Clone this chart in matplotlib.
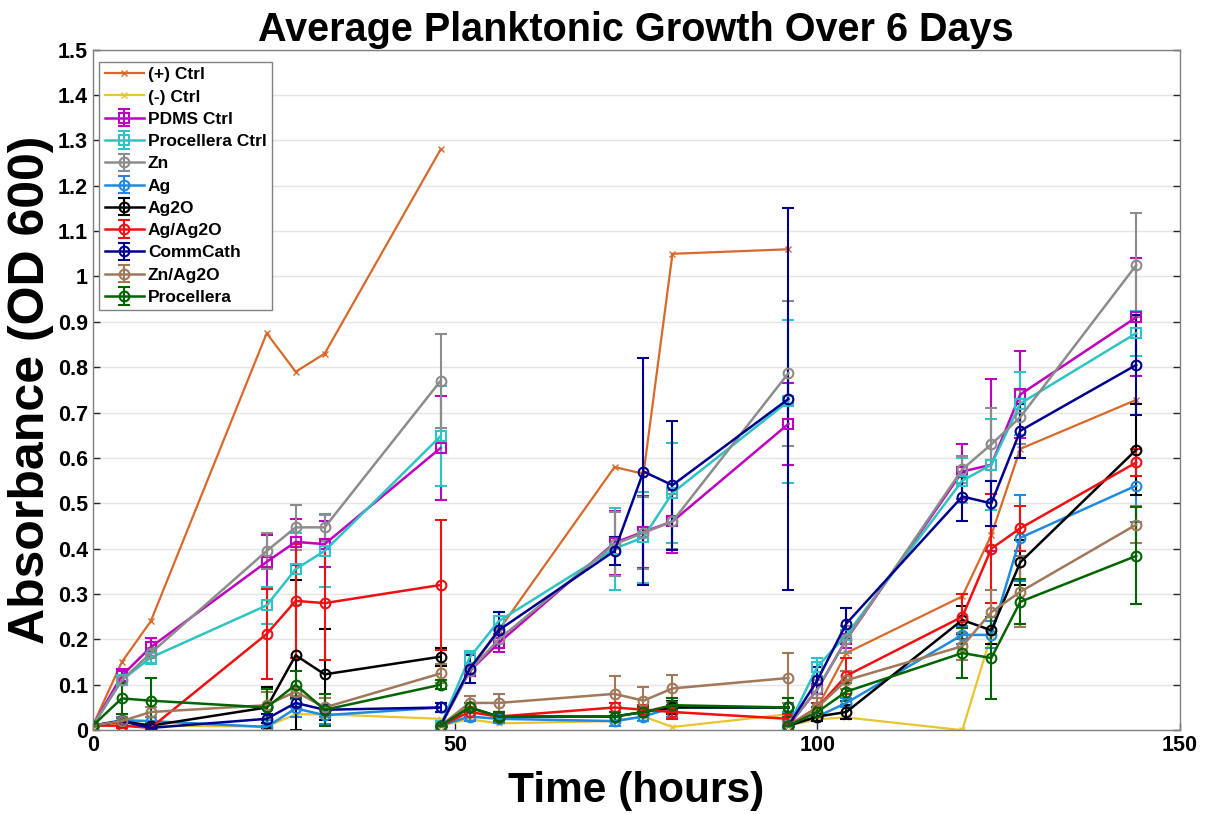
import numpy as np
import matplotlib
matplotlib.use("Agg")
import matplotlib.pyplot as plt

plt.rcParams['font.family'] = ['Liberation Sans', 'DejaVu Sans']

# ---- data: three day-long segments, 7 time points each ----
day1 = [0, 4, 8, 24, 28, 32, 48]
day2 = [48, 52, 56, 72, 76, 80, 96]
day3 = [96, 100, 104, 120, 124, 128, 144]

labels = ["(+) Ctrl", "(-) Ctrl", "PDMS Ctrl", "Procellera Ctrl", "Zn", "Ag",
          "Ag2O", "Ag/Ag2O", "CommCath", "Zn/Ag2O", "Procellera"]

nan = float('nan')

pos_ctrl = [0.01, 0.15, 0.24, 0.875, 0.79, 0.83, 1.28,
            0.01, 0.13, 0.22, 0.58, 0.565, 1.05, 1.06,
            0.01, 0.05, 0.17, 0.295, 0.43, 0.62, 0.728]
neg_ctrl = [0.01, 0.01, 0.01, 0.008, 0.035, 0.035, 0.025,
            0.01, 0.024, 0.015, 0.02, 0.03, 0.007, 0.035,
            0.01, 0.024, 0.028, 0.0, 0.21, nan, nan]

pdms = [0.01, 0.12, 0.183, 0.371, 0.415, 0.41, 0.622,
        0.01, 0.13, 0.192, 0.413, 0.437, 0.46, 0.675,
        0.01, 0.09, 0.2, 0.57, 0.585, 0.74, 0.91]
pdms_err = [0, 0.015, 0.02, 0.06, 0.05, 0.05, 0.115,
            0, 0.01, 0.02, 0.07, 0.08, 0.07, 0.09,
            0, 0.02, 0.02, 0.06, 0.19, 0.095, 0.13]

proc_ctrl = [0.01, 0.11, 0.16, 0.275, 0.355, 0.395, 0.648,
             0.01, 0.16, 0.24, 0.40, 0.425, 0.523, 0.725,
             0.01, 0.14, 0.21, 0.55, 0.585, 0.72, 0.875]
proc_ctrl_err = [0, 0.01, 0.015, 0.04, 0.08, 0.08, 0.11,
                 0, 0.015, 0.02, 0.09, 0.1, 0.11, 0.18,
                 0, 0.02, 0.02, 0.05, 0.1, 0.07, 0.05]

zn = [0.01, 0.11, 0.17, 0.395, 0.447, 0.447, 0.77,
      0.01, 0.13, 0.2, 0.41, 0.435, 0.46, 0.787,
      0.01, 0.09, 0.2, 0.575, 0.63, 0.69, 1.025]
zn_err = [0, 0.01, 0.01, 0.04, 0.05, 0.03, 0.103,
          0, 0.01, 0.02, 0.07, 0.08, 0.06, 0.16,
          0, 0.02, 0.03, 0.03, 0.08, 0.06, 0.114]

ag = [0.01, 0.022, 0.02, 0.007, 0.048, 0.033, 0.05,
      0.01, 0.03, 0.025, 0.02, 0.03, 0.05, 0.05,
      0.01, 0.03, 0.06, 0.21, 0.21, 0.424, 0.539]
ag_err = [0, 0.005, 0.01, 0.015, 0.02, 0.02, 0.01,
          0, 0.01, 0.01, 0.01, 0.01, 0.02, 0.01,
          0, 0.01, 0.01, 0.02, 0.03, 0.095, 0.08]

ag2o = [0.01, 0.02, 0.01, 0.05, 0.165, 0.123, 0.162,
        0.01, 0.05, 0.03, 0.03, 0.04, 0.05, 0.05,
        0.01, 0.03, 0.04, 0.243, 0.22, 0.37, 0.618]
ag2o_err = [0, 0.01, 0.01, 0.045, 0.165, 0.1, 0.02,
            0, 0.01, 0.01, 0.01, 0.01, 0.015, 0.02,
            0, 0.01, 0.015, 0.03, 0.03, 0.05, 0.1]

ag_ag2o = [0.01, 0.01, 0.005, 0.212, 0.285, 0.28, 0.32,
           0.01, 0.04, 0.03, 0.05, 0.045, 0.04, 0.025,
           0.01, 0.05, 0.12, 0.25, 0.40, 0.445, 0.59]
ag_ag2o_err = [0, 0.005, 0.005, 0.1, 0.125, 0.125, 0.143,
               0, 0.01, 0.01, 0.01, 0.01, 0.015, 0.01,
               0, 0.01, 0.04, 0.05, 0.12, 0.05, 0.03]

commcath = [0.01, 0.02, 0.005, 0.025, 0.06, 0.045, 0.05,
            0.01, 0.135, 0.22, 0.395, 0.57, 0.54, 0.73,
            0.01, 0.11, 0.235, 0.515, 0.50, 0.66, 0.805]
commcath_err = [0, 0.01, 0.005, 0.01, 0.01, 0.01, 0.01,
                0, 0.03, 0.04, 0.03, 0.25, 0.142, 0.42,
                0, 0.03, 0.035, 0.055, 0.05, 0.06, 0.11]

zn_ag2o = [0.01, 0.02, 0.04, 0.055, 0.085, 0.05, 0.125,
           0.01, 0.06, 0.06, 0.08, 0.065, 0.092, 0.115,
           0.01, 0.05, 0.11, 0.185, 0.26, 0.305, 0.453]
zn_ag2o_err = [0, 0.01, 0.01, 0.03, 0.01, 0.02, 0.02,
               0, 0.015, 0.02, 0.04, 0.03, 0.03, 0.055,
               0, 0.02, 0.02, 0.03, 0.05, 0.078, 0.04]

procellera = [0.01, 0.07, 0.065, 0.05, 0.1, 0.045, 0.10,
              0.01, 0.05, 0.03, 0.03, 0.04, 0.055, 0.05,
              0.01, 0.04, 0.085, 0.17, 0.159, 0.283, 0.384]
procellera_err = [0, 0.035, 0.05, 0.04, 0.03, 0.035, 0.01,
                  0, 0.01, 0.01, 0.01, 0.01, 0.015, 0.02,
                  0, 0.01, 0.02, 0.055, 0.09, 0.05, 0.107]

colors = ["#D9692A", "#E8C530", "#BF00BF", "#2EC4C4", "#8C8C8C", "#1F8AE0",
          "#000000", "#EE1111", "#00008F", "#A0785A", "#006400"]

series = [(pos_ctrl, None, 'x'), (neg_ctrl, None, 'x'),
          (pdms, pdms_err, 's'), (proc_ctrl, proc_ctrl_err, 's'),
          (zn, zn_err, 'o'), (ag, ag_err, 'o'), (ag2o, ag2o_err, 'o'),
          (ag_ag2o, ag_ag2o_err, 'o'), (commcath, commcath_err, 'o'),
          (zn_ag2o, zn_ag2o_err, 'o'), (procellera, procellera_err, 'o')]

fig = plt.figure(figsize=(12.05, 8.14), dpi=100)
ax = fig.add_axes([0.077, 0.103, 0.902, 0.836])

days = [day1, day2, day3]
for (vals, errs, mk), lab, col in zip(series, labels, colors):
    for d in range(3):
        xs = days[d]
        ys = vals[7 * d:7 * d + 7]
        lbl = lab if d == 0 else None
        if errs is None:
            ax.plot(xs, ys, color=col, marker=mk, markersize=5, linewidth=1.6,
                    label=lbl)
        else:
            es = errs[7 * d:7 * d + 7]
            ax.errorbar(xs, ys, yerr=es, color=col, marker=mk, markersize=7,
                        markerfacecolor='none', markeredgewidth=1.5,
                        linewidth=1.8, elinewidth=1.5, capsize=4, capthick=1.5,
                        label=lbl)

ax.set_xlim(0, 150)
ax.set_ylim(0, 1.5)
ax.set_xticks([0, 50, 100, 150])
yt = np.round(np.arange(0, 1.51, 0.1), 1)
ax.set_yticks(yt)
ax.set_yticklabels(["0" if v == 0 else ("1" if v == 1 else f"{v:g}") for v in yt])
ax.yaxis.grid(True, color='#e5e5e5', linewidth=1.0)
ax.set_axisbelow(True)
ax.tick_params(direction='in', length=5, width=1, top=False, right=True,
               labelsize=15.5, colors='#262626', labelcolor='black')
for lab in ax.get_xticklabels() + ax.get_yticklabels():
    lab.set_fontweight('bold')
for sp in ax.spines.values():
    sp.set_color('#808080')
    sp.set_linewidth(1.0)

ax.set_title("Average Planktonic Growth Over 6 Days", fontsize=28.5,
             fontweight='bold', pad=6)
ax.set_xlabel("Time (hours)", fontsize=30.5, fontweight='bold', labelpad=11)
ax.set_ylabel("Absorbance (OD 600)", fontsize=36, fontweight='bold', labelpad=3)

leg = ax.legend(loc='upper left', bbox_to_anchor=(0.006, 0.982),
                prop={'weight': 'bold', 'size': 12.5},
                frameon=True, fancybox=False, framealpha=1, edgecolor='#808080',
                labelspacing=0.41, handlelength=2.3, handletextpad=0.2,
                borderaxespad=0.0, borderpad=0.3)
leg.get_frame().set_linewidth(1.0)

fig.savefig("out.png", dpi=100)
